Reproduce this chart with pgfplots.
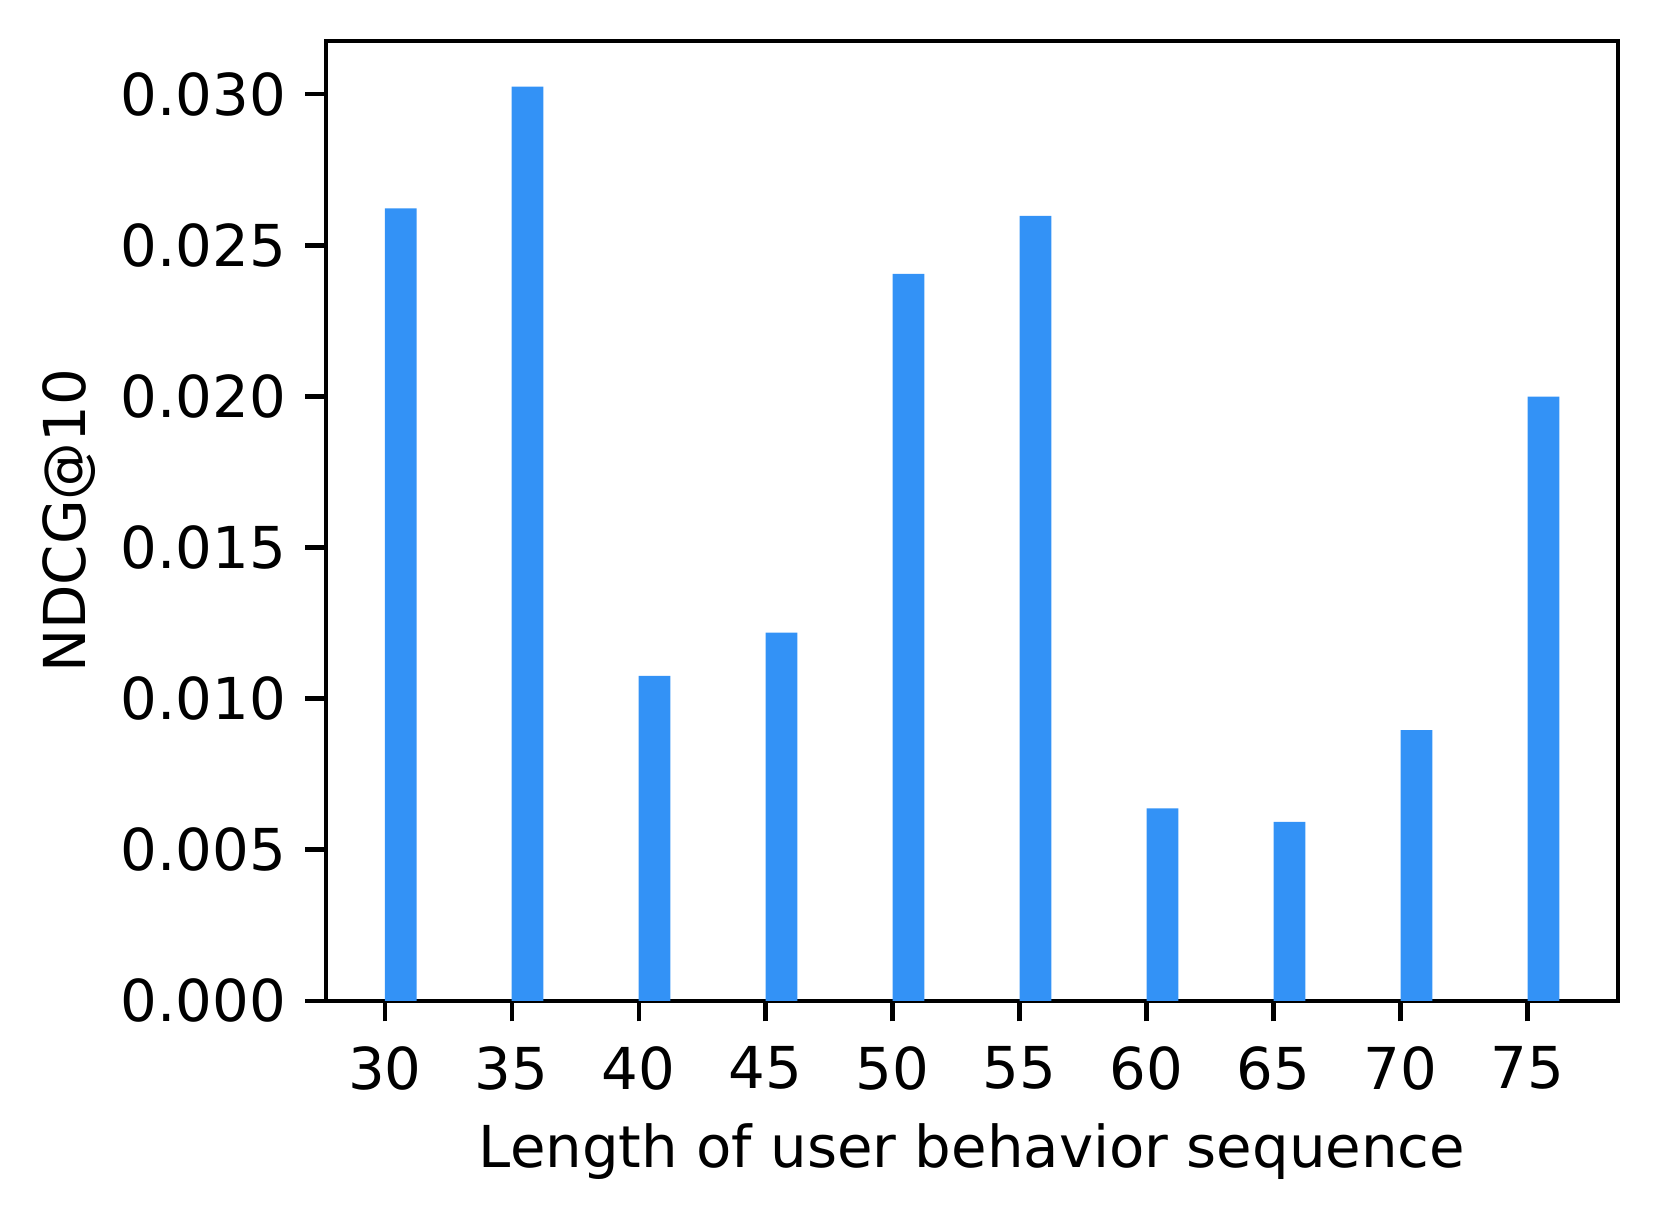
\documentclass[border=0pt]{standalone}
\usepackage{pgfplots}
\pgfplotsset{compat=1.18}
\usetikzlibrary{calc}
\usepackage{fontspec}
\setmainfont{DejaVu Sans}
\definecolor{barblue}{RGB}{51,146,246}
\begin{document}
\begin{tikzpicture}
\begin{axis}[
  name=ax,
  scale only axis,
  width=232.6pt, height=172.8pt,
  xmin=27.6875, xmax=78.5625,
  ymin=0, ymax=0.03176,
  axis line style={line width=0.8pt},
  tick style={line width=0.8pt, black},
  major tick length=3.7pt,
  tick align=outside,
  xtick pos=bottom, ytick pos=left,
  xtick={30,35,...,75},
  ytick={0,0.005,0.010,0.015,0.020,0.025,0.030},
  yticklabel style={/pgf/number format/fixed, /pgf/number format/fixed zerofill, /pgf/number format/precision=3},
  scaled y ticks=false,
  /pgf/number format/assume math mode=true,
  tick label style={font=\fontsize{10.4}{12}\selectfont},
  xticklabel style={yshift=-1.0pt},
  label style={font=\fontsize{10.4}{12}\selectfont},
  xlabel={Length of user behavior sequence},
  ylabel={NDCG@10},
  xlabel style={yshift=0.9pt},
  ylabel style={yshift=-2.3pt},
]
\addplot[ybar, draw=none, fill=barblue, bar width=1.25, bar shift=0.625] coordinates {
(30,0.02622) (35,0.03025) (40,0.01075) (45,0.01218) (50,0.02405)
(55,0.02597) (60,0.00637) (65,0.00592) (70,0.00896) (75,0.01999)
};
\end{axis}
\path ($(ax.south west)+(-58.7pt,-39.6pt)$) rectangle ($(ax.north east)+(7.56pt,7.38pt)$);
\end{tikzpicture}
\end{document}
